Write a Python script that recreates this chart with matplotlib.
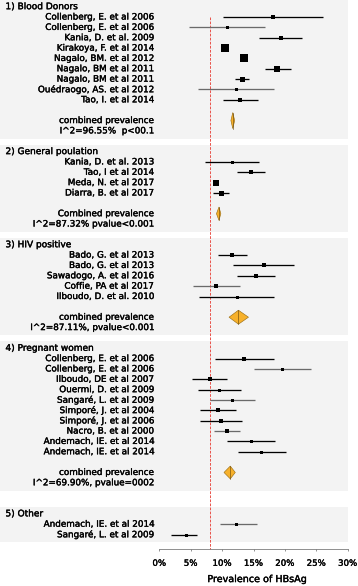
import numpy as np
import matplotlib
matplotlib.use("Agg")
import matplotlib.pyplot as plt
import matplotlib.patheffects as pe
from matplotlib.patches import Polygon

plt.rcParams['font.family'] = ['DejaVu Sans']

# ---- data (prevalence in %) ----
groups = ["1) Blood Donors", "2) General poulation", "3) HIV positive",
          "4) Pregnant women", "5) Other"]

blood_labels = ["Collenberg, E. et al 2006", "Collenberg, E. et al 2006",
                "Kania, D. et al. 2009", "Kirakoya, F. et al 2014",
                "Nagalo, BM. et al 2012", "Nagalo, BM et al 2011",
                "Nagalo, BM et al 2011", "Ouédraogo, AS. et al 2012",
                "Tao, I. et al 2014"]
blood_est = [18.1, 10.8, 19.3, 10.4, 13.5, 18.8, 13.1, 12.2, 12.9]
blood_lo = [10.1, 4.8, 15.8, 10.0, 13.1, 16.9, 12.0, 6.2, 10.1]
blood_hi = [26.1, 16.9, 22.8, 10.8, 13.9, 20.9, 14.3, 18.3, 15.7]
blood_wt = [3.3, 3.0, 4.0, 8.0, 8.0, 5.7, 5.0, 3.0, 4.0]

gen_labels = ["Kania, D. et al. 2013", "Tao, I et al 2014",
              "Meda, N. et al 2017", "Diarra, B. et al 2017"]
gen_est = [11.5, 14.6, 9.1, 9.8]
gen_lo = [7.3, 12.4, 8.8, 8.6]
gen_hi = [15.8, 16.8, 9.4, 11.1]
gen_wt = [3.0, 4.0, 6.7, 5.0]

hiv_labels = ["Bado, G. et al 2013", "Bado, G. et al 2013",
              "Sawadogo, A. et al 2016", "Coffie, PA et al 2017",
              "Ilboudo, D. et al. 2010"]
hiv_est = [11.6, 16.6, 15.4, 9.0, 12.3]
hiv_lo = [9.3, 11.8, 12.3, 5.4, 6.3]
hiv_hi = [13.9, 21.4, 18.5, 12.8, 18.2]
hiv_wt = [4.3, 3.3, 4.7, 3.3, 3.0]

preg_labels = ["Collenberg, E. et al 2006", "Collenberg, E. et al 2006",
               "Ilboudo, DE et al 2007", "Ouermi, D. et al 2009",
               "Sangaré, L. et al 2009", "Simporé, J. et al 2004",
               "Simporé, J. et al 2006", "Nacro, B. et al 2000",
               "Andemach, IE. et al 2014", "Andemach, IE. et al 2014"]
preg_est = [13.5, 19.6, 8.0, 9.5, 11.6, 9.3, 9.8, 10.8, 14.6, 16.2]
preg_lo = [8.8, 15.0, 5.2, 6.1, 8.1, 6.5, 6.5, 8.7, 10.8, 12.5]
preg_hi = [18.3, 24.2, 10.7, 13.0, 15.2, 12.2, 13.2, 12.8, 18.4, 20.1]
preg_wt = [3.3, 3.0, 3.3, 3.0, 3.0, 3.7, 3.3, 4.3, 3.0, 3.0]

other_labels = ["Andemach, IE. et al 2014", "Sangaré, L. et al 2009"]
other_est = [12.2, 4.3]
other_lo = [9.6, 1.8]
other_hi = [15.6, 6.0]
other_wt = [3.0, 3.0]

# combined estimates (None for the last group)
comb_text = [["combined prevalence", "I^2=96.55%  p<00.1"],
             ["Combined prevalence", "I^2=87.32% pvalue<0.001"],
             ["combined prevalence", "I^2=87.11%, pvalue<0.001"],
             ["combined prevalence", "I^2=69.90%, pvalue=0002"],
             None]
comb_est = [11.7, 9.5, 12.6, 11.3, None]
comb_lo = [11.4, 9.1, 11.1, 10.3, None]
comb_hi = [12.0, 9.8, 14.2, 12.1, None]

ref_line = 8.0

study_sets = [
    (blood_labels, blood_est, blood_lo, blood_hi, blood_wt),
    (gen_labels, gen_est, gen_lo, gen_hi, gen_wt),
    (hiv_labels, hiv_est, hiv_lo, hiv_hi, hiv_wt),
    (preg_labels, preg_est, preg_lo, preg_hi, preg_wt),
    (other_labels, other_est, other_lo, other_hi, other_wt),
]

# grey CI lines (group, row)
grey_rows = {(0, 1), (0, 7), (2, 3), (3, 1), (3, 4), (3, 7), (4, 0)}
diamond_h = [1.55, 1.29, 1.35, 1.23]
gap_after = [2, 2, 2, 3, 0]

fig = plt.figure(figsize=(358 / 72, 586 / 72), dpi=72)
ax = fig.add_axes([0, 0, 1, 1])
ax.set_xlim(-25.37, 31.64)
ax.set_ylim(55.97, -0.647)

fs = 8.8
bold = [pe.withStroke(linewidth=0.35, foreground='black')]
band_right = 347.7 / 358

row = 0
for g, (labels, est, lo, hi, wt) in enumerate(study_sets):
    top = row
    ax.text(-24.5, row, groups[g], ha='left', va='center', fontsize=9.0,
            path_effects=bold)
    row += 1
    for i in range(len(labels)):
        c = '#6a6a6a' if (g, i) in grey_rows else 'black'
        ax.plot([lo[i], hi[i]], [row, row], color=c, lw=1.3,
                solid_capstyle='butt', zorder=3)
        ax.plot(est[i], row, marker='s', ms=wt[i], color='black',
                mec='black', mew=0, zorder=4)
        ax.text(-0.96, row, labels[i], ha='right', va='center', fontsize=fs,
                path_effects=bold)
        row += 1
    last = row - 1
    if comb_est[g] is not None:
        row += 1
        h = diamond_h[g] / 2
        poly = Polygon([[comb_lo[g], row], [comb_est[g], row - h],
                        [comb_hi[g], row], [comb_est[g], row + h]],
                       closed=True, fc='#f7b12b', ec='#9a6d12', lw=0.6,
                       zorder=4)
        ax.add_patch(poly)
        ax.plot([comb_est[g], comb_est[g]], [row - h, row + h],
                color='#6b4a0a', lw=0.6, zorder=5)
        ax.text(-0.96, row, comb_text[g][0], ha='right', va='center',
                fontsize=fs, path_effects=bold)
        ax.text(-0.96, row + 1, comb_text[g][1], ha='right', va='center',
                fontsize=fs, path_effects=bold)
        row += 1
        last = row
    ax.axhspan(top - 0.68, last + 0.75, xmin=0, xmax=band_right,
               color='#f3f3f3', lw=0, zorder=0)
    row += gap_after[g]

axis_y = row - gap_after[-1] + 0.43
ax.plot([ref_line, ref_line], [0.95, axis_y], color='#e8453c', lw=0.9,
        ls=(0, (3, 1.5)), zorder=2)

for s in ['top', 'left', 'right']:
    ax.spines[s].set_visible(False)
ax.spines['bottom'].set_position(('data', axis_y))
ax.spines['bottom'].set_bounds(0, 30)
ax.spines['bottom'].set_color('#777777')
ax.spines['bottom'].set_linewidth(0.8)
ticks = np.arange(0, 31, 5)
ax.set_xticks(ticks)
ax.set_xticklabels([f"{t}%" for t in ticks], fontsize=8.6)
for lab in ax.get_xticklabels():
    lab.set_path_effects(bold)
ax.tick_params(axis='x', direction='out', length=2.4, width=0.8,
               color='#777777', pad=7)
ax.set_yticks([])
ax.text(15.6, 55.3, "Prevalence of HBsAg", ha='center', va='center',
        fontsize=9.6, path_effects=bold)

fig.savefig("out.png", dpi=72)
